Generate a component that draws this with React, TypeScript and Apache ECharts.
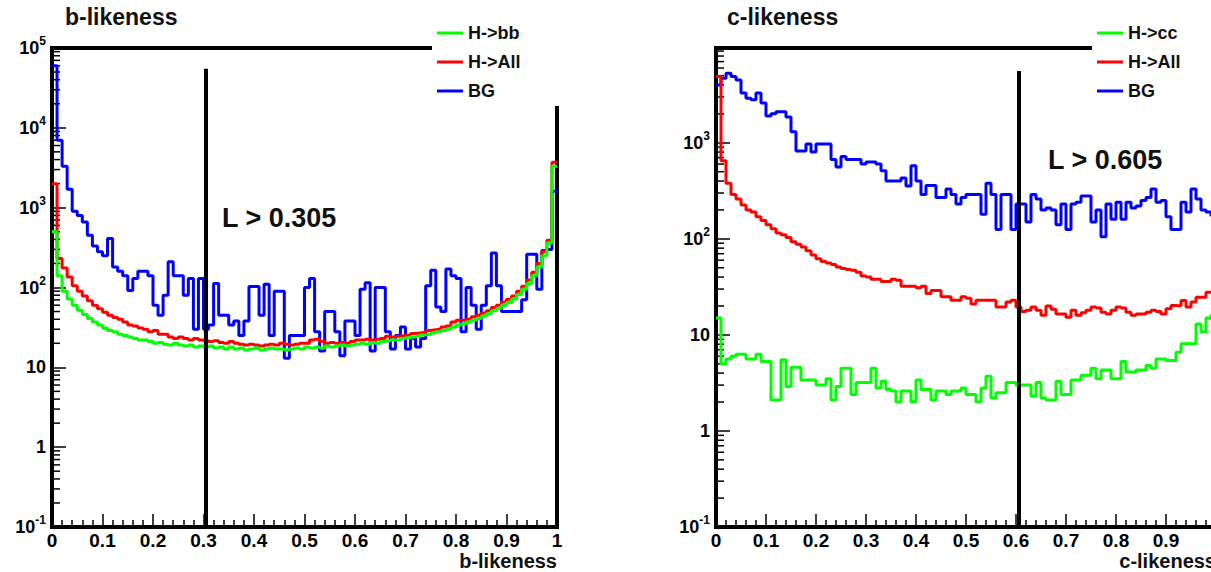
import React, { useEffect, useRef } from 'react';
import * as echarts from 'echarts';

const FONT = '"Liberation Sans", Arial, Helvetica, sans-serif';

// ---------- data: 100 bins of width 0.01 on [0, 1] ----------
const bLikeBG = [
  60000, 7000, 3300, 1700, 900, 800, 660, 450, 330, 280,
  250, 410, 180, 160, 140, 92, 130, 160, 160, 140,
  60, 45, 80, 210, 140, 140, 80, 130, 30, 130,
  30, 34, 112, 45, 45, 34, 38, 25, 38, 103,
  103, 45, 110, 25, 90, 90, 13, 25, 25, 25,
  100, 130, 28, 16, 50, 50, 28, 14, 38, 38,
  25, 95, 115, 16, 100, 100, 28, 17, 25, 32,
  17, 23, 18, 23, 105, 165, 57, 50, 170, 140,
  130, 28, 100, 60, 30, 60, 105, 270, 105, 50,
  50, 50, 50, 70, 260, 260, 95, 290, 300, 1600,
];
const bLikeHAll = [
  2000, 230, 175, 135, 105, 90, 78, 68, 60, 54,
  49, 45, 42, 40, 37, 34, 33, 31, 30, 28,
  29, 26, 26, 24, 23, 24, 23, 22, 23, 22,
  21.5, 21, 21.5, 20.5, 20, 21, 20, 19.5, 19, 19.5,
  19, 18.5, 19, 19.5, 19, 20, 19.5, 19, 19.5, 20,
  20, 22, 22.5, 21, 20, 20.5, 20, 20.5, 20, 21,
  22, 22, 22.5, 22, 22.5, 23, 24.5, 24, 24.5, 25,
  25.5, 26.5, 27, 27.5, 29, 29.5, 30, 32, 33, 37,
  39, 39, 40, 43, 45, 48, 51, 56, 60, 66,
  71, 78, 90, 104, 124, 155, 200, 280, 390, 3700,
];
const bLikeHbb = [
  500, 140, 90, 72, 60, 52, 46, 41, 37, 34,
  31, 29, 28, 26, 25, 24, 23, 22, 22, 21,
  20, 20.5, 19.5, 19, 20, 19, 18.5, 19, 18, 18.5,
  18, 18.5, 17.5, 18, 17, 18, 17, 17.5, 16.5, 17,
  17.5, 16.5, 17, 17.5, 17, 17, 16.5, 17, 17.5, 17,
  18, 17.5, 18, 17.5, 18.5, 18, 18.5, 19, 18.5, 19,
  19.5, 20, 19.5, 20.5, 20, 21, 21.5, 22, 22, 23,
  23.5, 24, 24.5, 25.5, 26, 27, 28, 29, 30, 32,
  34, 35, 37, 39, 41, 44, 47, 51, 55, 60,
  65, 72, 82, 95, 112, 140, 180, 250, 360, 3300,
];
const cLikeBG = [
  4000, 4700, 5300, 4900, 4500, 3300, 2900, 2800, 3300, 2600,
  1900, 2000, 2100, 2100, 1850, 1300, 820, 820, 970, 800,
  970, 970, 970, 670, 560, 720, 670, 670, 670, 600,
  630, 630, 600, 510, 400, 400, 400, 430, 355, 575,
  400, 290, 360, 360, 270, 270, 330, 290, 230, 270,
  290, 290, 290, 180, 380, 290, 125, 290, 290, 125,
  230, 230, 150, 290, 260, 200, 210, 200, 140, 230,
  125, 230, 240, 280, 280, 150, 200, 105, 230, 160,
  240, 160, 240, 210, 220, 250, 270, 330, 240, 250,
  170, 125, 125, 240, 190, 330, 260, 200, 190, 175,
];
const cLikeHAll = [
  4900, 650, 380, 290, 260, 225, 200, 190, 170, 155,
  140, 127, 115, 110, 103, 93, 88, 82, 75, 68,
  62, 58, 56, 54, 51, 49, 48, 47, 45, 41,
  40, 38, 38, 36, 36, 38, 37, 32, 32, 32,
  31, 32, 27, 29, 29, 25, 25, 23, 23, 25,
  24, 21, 23, 23, 23, 23, 19.5, 19.5, 22, 23,
  19.5, 17.5, 18, 19.5, 18, 16, 20, 18.5, 16.5, 16.5,
  15.3, 18, 16, 17, 18, 19.5, 19, 17.2, 16.5, 18,
  19.5, 19, 17.2, 16, 16.5, 16.5, 17.2, 18, 17.5, 16.5,
  18.7, 20.2, 20, 22.8, 19.5, 22, 24.7, 24.7, 27.8, 28,
];
const cLikeHcc = [
  15, 5.0, 5.6, 6.0, 6.3, 6.3, 5.6, 5.6, 6.3, 5.3,
  5.3, 2.1, 2.1, 5.5, 2.9, 4.6, 4.6, 3.4, 3.4, 3.4,
  3.0, 3.0, 3.5, 2.1, 2.9, 4.5, 4.5, 2.4, 3.2, 3.2,
  3.2, 4.5, 2.8, 3.3, 2.7, 2.6, 2.0, 2.6, 2.6, 2.0,
  3.4, 2.7, 2.7, 2.1, 2.6, 2.6, 2.4, 2.6, 2.6, 2.8,
  2.4, 2.4, 2.0, 2.8, 3.7, 2.2, 2.5, 2.5, 3.2, 3.2,
  3.0, 3.0, 3.0, 2.3, 3.2, 2.2, 2.1, 2.1, 3.3, 2.4,
  2.4, 3.4, 3.4, 3.8, 3.8, 4.5, 3.5, 4.3, 4.3, 3.5,
  3.5, 5.3, 4.1, 4.1, 4.3, 4.3, 4.8, 4.5, 5.6, 5.6,
  5.4, 5.4, 6.6, 8.1, 8.1, 8.1, 13, 10.7, 15, 16,
];

const bLegend = ['H->bb', 'H->All', 'BG'];
const cLegend = ['H->cc', 'H->All', 'BG'];
const bCut = 0.305;
const cCut = 0.605;
const bCutTop = 55000;
const cCutTop = 5600;
const bYRange = [0.1, 100000];
const cYRange = [0.1, 9700];
const BIN_WIDTH = 0.01;

const GREEN = '#00ff00';
const RED = '#ff0000';
const BLUE = '#0000ff';

// the chart canvas is a little wider than the 1211px view, as the
// reference's right-hand frame is cropped off at the image edge
const VIEW_W = 1211;
const VIEW_H = 572;
const CANVAS_W = 1240;

function toSteps(values: number[]) {
  const pts = values.map((v, i) => [+(i * BIN_WIDTH).toFixed(2), v]);
  pts.push([1, values[values.length - 1]]);
  return pts;
}

function minorTickValues(min: number, max: number) {
  const out: number[][] = [];
  for (let e = Math.floor(Math.log10(min)); e <= Math.ceil(Math.log10(max)); e++) {
    for (let k = 2; k <= 9; k++) {
      const v = k * Math.pow(10, e);
      if (v > min && v < max) out.push([0, v]);
    }
  }
  return out;
}

const logLabel = (v: number) => {
  const l = Math.log10(v);
  const e = Math.round(l);
  if (Math.abs(l - e) > 1e-6) return '';
  if (e === 0) return '{b|1}';
  if (e === 1) return '{b|10}';
  return `{b|10}{s|${e}}`;
};

const yRich = {
  b: { fontSize: 18, fontWeight: 'bold', fontFamily: FONT, color: '#000', lineHeight: 18, verticalAlign: 'bottom' },
  s: { fontSize: 12, fontWeight: 'bold', fontFamily: FONT, color: '#000', lineHeight: 12, verticalAlign: 'bottom', padding: [0, 0, 10, 0] },
};

const tickStyle = { color: '#000', width: 1.5 };

function xAxisDef(gridIndex: number, showMax: boolean) {
  return {
    type: 'value', gridIndex, min: 0, max: 1, interval: 0.1,
    axisLine: { show: true, onZero: false, lineStyle: { color: '#000', width: 4 } },
    axisTick: { show: true, inside: true, length: 13, lineStyle: tickStyle },
    minorTick: { show: true, splitNumber: 5, length: 7, lineStyle: tickStyle },
    splitLine: { show: false },
    axisLabel: {
      margin: 4, fontSize: 19, fontWeight: 'bold', fontFamily: FONT, color: '#000',
      showMaxLabel: showMax,
      formatter: (v: number) => String(Math.round(v * 10) / 10),
    },
  };
}

function yAxisDef(gridIndex: number, range: number[]) {
  return {
    type: 'log', logBase: 10, gridIndex, min: range[0], max: range[1],
    axisLine: { show: true, onZero: false, lineStyle: { color: '#000', width: 4 } },
    axisTick: { show: true, inside: true, length: 14, lineStyle: tickStyle },
    minorTick: { show: false },
    splitLine: { show: false },
    axisLabel: { margin: 6, formatter: logLabel, rich: yRich, showMaxLabel: true },
  };
}

function histSeries(name: string, color: string, values: number[], axis: number) {
  return {
    type: 'line', name, xAxisIndex: axis, yAxisIndex: axis, step: 'end',
    showSymbol: false, symbol: 'none', color,
    lineStyle: { color, width: 3 }, data: toSteps(values), silent: true,
  };
}

function minorTickSeries(axis: number, range: number[]) {
  return {
    type: 'custom', xAxisIndex: axis, yAxisIndex: axis, silent: true,
    encode: { x: 0, y: 1 },
    data: minorTickValues(range[0], range[1]),
    renderItem: (_p: any, api: any) => {
      const p = api.coord([0, api.value(1)]);
      return {
        type: 'line',
        shape: { x1: p[0], y1: p[1], x2: p[0] + 8, y2: p[1] },
        style: { stroke: '#000', lineWidth: 1.5 },
      };
    },
  };
}

function cutLine(x: number, top: number) {
  return {
    silent: true, symbol: ['none', 'none'], label: { show: false },
    lineStyle: { color: '#000', width: 4, type: 'solid' },
    data: [[{ coord: [x, 0.1] }, { coord: [x, top] }]],
  };
}

function legendDef(names: string[], left: number) {
  return {
    data: names, orient: 'vertical', left, top: 16, icon: 'rect',
    itemWidth: 26, itemHeight: 3, itemGap: 11, selectedMode: false,
    backgroundColor: '#fff', padding: [8, 40, 6, 5],
    textStyle: { fontSize: 18, fontWeight: 'bold', fontFamily: FONT, color: '#111' },
  };
}

export default function App() {
  const ref = useRef<HTMLDivElement>(null);
  useEffect(() => {
    if (!ref.current) return;
    const chart = echarts.init(ref.current, undefined, { renderer: 'svg' });
    const green0 = histSeries('H->bb', GREEN, bLikeHbb, 0) as any;
    green0.markLine = cutLine(bCut, bCutTop);
    const green1 = histSeries('H->cc', GREEN, cLikeHcc, 1) as any;
    green1.markLine = cutLine(cCut, cCutTop);
    const titleStyle = { fontSize: 23, fontWeight: 'bold', fontFamily: FONT, color: '#111' };
    chart.setOption({
      animation: false,
      backgroundColor: '#fff',
      title: [
        { text: 'b-likeness', left: 65, top: 5, padding: 0, textStyle: titleStyle },
        { text: 'c-likeness', left: 727, top: 5, padding: 0, textStyle: titleStyle },
      ],
      legend: [legendDef(bLegend, 432), legendDef(cLegend, 1092)],
      grid: [
        { left: 52, top: 48, width: 505, height: 479, show: true, borderColor: '#000', borderWidth: 4 },
        { left: 716, top: 48, width: 500, height: 479, show: true, borderColor: '#000', borderWidth: 4 },
      ],
      xAxis: [xAxisDef(0, true), xAxisDef(1, false)],
      yAxis: [yAxisDef(0, bYRange), yAxisDef(1, cYRange)],
      series: [
        histSeries('BG', BLUE, bLikeBG, 0),
        histSeries('H->All', RED, bLikeHAll, 0),
        green0,
        minorTickSeries(0, bYRange),
        histSeries('BG', BLUE, cLikeBG, 1),
        histSeries('H->All', RED, cLikeHAll, 1),
        green1,
        minorTickSeries(1, cYRange),
      ],
      graphic: [
        { type: 'text', x: 222, y: 218, style: { text: 'L > 0.305', font: `bold 27px ${FONT}`, fill: '#111', verticalAlign: 'middle' } },
        { type: 'text', x: 1048, y: 160, style: { text: 'L > 0.605', font: `bold 27px ${FONT}`, fill: '#111', verticalAlign: 'middle' } },
        { type: 'text', x: 557, y: 561, style: { text: 'b-likeness', font: `bold 20px ${FONT}`, fill: '#111', align: 'right', verticalAlign: 'middle' } },
        { type: 'text', x: 1216, y: 561, style: { text: 'c-likeness', font: `bold 20px ${FONT}`, fill: '#111', align: 'right', verticalAlign: 'middle' } },
      ],
    });
    return () => chart.dispose();
  }, []);
  return (
    <div style={{ position: 'fixed', left: 0, top: 0, width: VIEW_W, height: VIEW_H, overflow: 'hidden', background: '#fff' }}>
      <div ref={ref} style={{ width: CANVAS_W, height: VIEW_H }} />
    </div>
  );
}
